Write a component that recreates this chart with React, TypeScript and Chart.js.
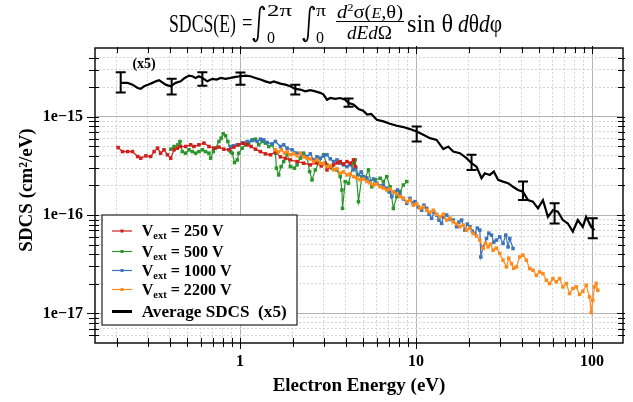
import { useEffect, useRef } from 'react';
import { Chart, registerables } from 'chart.js';

Chart.register(...registerables);

// ---- data (y values in units of 1e-16 cm^2/eV) ----
const UNIT = 1e-16;

const RED_E = [0.203, 0.215, 0.230, 0.245, 0.262, 0.273, 0.292, 0.311, 0.325, 0.340, 0.354, 0.370, 0.387, 0.404, 0.422, 0.441, 0.460, 0.491, 0.524, 0.547, 0.584, 0.624, 0.666, 0.710, 0.759, 0.809, 0.864, 0.922, 0.984, 1.043, 1.098, 1.157, 1.224, 1.306, 1.395, 1.489, 1.589, 1.696, 1.811, 1.932, 2.110, 2.299, 2.508, 2.713, 2.896, 3.051, 3.120, 3.257, 3.400, 3.567, 3.710, 3.873, 4.050, 4.228, 4.414, 4.512];
const RED_V = [4.86, 4.42, 4.42, 4.42, 3.94, 3.79, 4.00, 3.94, 4.42, 4.79, 4.26, 4.61, 4.10, 3.79, 4.61, 4.79, 4.98, 4.98, 5.18, 4.98, 5.18, 5.39, 4.98, 4.79, 4.91, 4.68, 4.61, 4.91, 5.18, 5.39, 5.18, 4.98, 4.68, 4.42, 4.19, 4.10, 4.39, 3.91, 3.77, 3.64, 3.50, 3.37, 3.24, 3.39, 3.16, 3.37, 2.88, 3.09, 3.24, 3.39, 3.50, 3.31, 3.50, 3.37, 3.64, 3.11];

const GREEN_E = [0.404, 0.422, 0.444, 0.456, 0.470, 0.491, 0.513, 0.536, 0.560, 0.584, 0.611, 0.637, 0.666, 0.681, 0.705, 0.726, 0.759, 0.782, 0.803, 0.828, 0.853, 0.884, 0.903, 0.931, 0.964, 0.984, 1.029, 1.074, 1.122, 1.172, 1.224, 1.278, 1.336, 1.395, 1.456, 1.522, 1.589, 1.610, 1.659, 1.712, 1.771, 1.851, 1.932, 2.036, 2.110, 2.202, 2.299, 2.403, 2.486, 2.566, 2.678, 2.796, 2.985, 3.120, 3.331, 3.554, 3.710, 3.793, 3.823, 3.960, 4.135, 4.414, 4.512, 4.711, 4.925, 5.140, 5.367, 5.611, 5.857, 6.252, 6.527, 6.823, 7.123, 7.437, 7.775, 8.117, 8.473, 8.859];
const GREEN_V = [4.68, 4.98, 5.18, 5.60, 4.42, 4.26, 4.61, 4.42, 4.26, 4.42, 4.61, 4.42, 4.26, 3.79, 4.42, 4.79, 5.60, 6.06, 6.71, 6.40, 5.60, 4.42, 4.26, 3.42, 3.64, 4.26, 4.79, 5.18, 5.39, 5.82, 5.92, 5.18, 5.60, 5.39, 4.98, 5.18, 4.26, 3.00, 2.56, 3.11, 3.50, 4.26, 3.11, 3.00, 3.24, 3.79, 4.26, 3.91, 2.77, 2.28, 2.88, 3.37, 4.10, 3.24, 3.00, 2.88, 2.46, 1.80, 1.17, 2.19, 2.11, 3.37, 3.64, 1.37, 2.46, 2.37, 2.88, 1.94, 2.28, 2.37, 2.19, 2.46, 1.94, 1.17, 1.54, 1.73, 2.02, 2.19];

const BLUE_E = [0.884, 0.922, 0.964, 1.029, 1.098, 1.172, 1.252, 1.306, 1.364, 1.426, 1.522, 1.589, 1.696, 1.771, 1.851, 1.976, 2.110, 2.251, 2.403, 2.508, 2.619, 2.737, 2.858, 2.985, 3.120, 3.257, 3.400, 3.554, 3.710, 3.873, 4.050, 4.228, 4.414, 4.554, 4.711, 4.880, 5.029, 5.257, 5.488, 5.730, 5.989, 6.252, 6.527, 6.823, 7.031, 7.283, 7.603, 7.855, 8.117, 8.473, 8.859, 9.247, 9.555, 9.869, 10.30, 10.77, 11.10, 11.50, 11.85, 12.27, 12.65, 13.10, 13.50, 13.98, 14.28, 14.93, 15.58, 16.27, 17.01, 17.52, 18.15, 18.95, 19.58, 20.23, 20.90, 21.59, 22.31, 23.05, 23.35, 24.06, 25.15, 25.93, 26.85, 27.67, 28.66, 29.92, 31.23, 32.36, 33.35, 34.10, 35.60];
const BLUE_V = [4.98, 5.06, 5.18, 5.39, 5.60, 5.73, 5.60, 5.92, 5.82, 5.47, 5.30, 5.60, 4.98, 5.18, 4.79, 4.61, 4.26, 4.10, 3.94, 4.19, 3.64, 3.91, 3.79, 4.00, 4.10, 3.73, 3.50, 3.64, 3.37, 3.24, 3.11, 3.24, 2.88, 3.02, 2.56, 2.75, 2.46, 2.39, 2.19, 2.33, 2.11, 1.98, 2.02, 1.87, 1.72, 1.54, 1.73, 1.80, 1.60, 1.46, 1.32, 1.48, 1.33, 1.37, 1.21, 1.12, 1.26, 1.17, 1.02, 0.925, 1.07, 1.00, 0.889, 0.823, 0.961, 1.00, 0.910, 0.889, 0.760, 0.848, 0.889, 0.703, 0.809, 0.760, 0.687, 0.650, 0.737, 0.703, 0.375, 0.475, 0.578, 0.655, 0.625, 0.530, 0.556, 0.600, 0.514, 0.625, 0.475, 0.578, 0.457];

const ORANGE_E = [1.589, 1.652, 1.718, 1.787, 1.858, 1.932, 2.010, 2.110, 2.202, 2.299, 2.403, 2.508, 2.619, 2.737, 2.858, 2.985, 3.120, 3.257, 3.400, 3.554, 3.710, 3.873, 4.050, 4.228, 4.414, 4.613, 4.815, 5.029, 5.257, 5.488, 5.730, 5.989, 6.252, 6.527, 6.823, 7.123, 7.437, 7.775, 8.117, 8.473, 8.859, 9.247, 9.654, 10.09, 10.54, 11.00, 11.50, 12.00, 12.53, 13.10, 13.68, 14.28, 14.93, 15.58, 16.27, 17.01, 17.76, 18.54, 19.38, 20.23, 21.12, 22.08, 23.05, 24.06, 24.83, 25.68, 26.50, 27.42, 28.66, 29.92, 31.23, 32.66, 33.65, 34.85, 35.92, 37.20, 38.83, 40.54, 42.38, 44.25, 46.20, 48.30, 50.42, 52.63, 55.03, 57.44, 59.97, 62.69, 65.45, 68.33, 71.42, 74.56, 77.84, 81.38, 84.96, 88.70, 92.71, 96.78, 98.97, 101.0, 103.3, 105.6, 107.9];
const ORANGE_V = [4.61, 4.39, 4.61, 4.29, 4.39, 4.10, 4.19, 4.00, 4.26, 3.91, 3.79, 3.73, 3.50, 3.64, 3.37, 3.31, 3.11, 3.16, 2.88, 2.95, 2.66, 2.75, 2.56, 2.62, 2.46, 2.39, 2.28, 2.33, 2.19, 2.12, 2.02, 2.07, 1.94, 1.88, 1.80, 1.84, 1.73, 1.64, 1.54, 1.49, 1.37, 1.42, 1.26, 1.30, 1.17, 1.21, 1.12, 1.07, 1.12, 1.02, 0.961, 1.02, 0.889, 0.932, 0.854, 0.809, 0.760, 0.791, 0.703, 0.737, 0.650, 0.611, 0.556, 0.457, 0.518, 0.475, 0.506, 0.439, 0.461, 0.407, 0.348, 0.297, 0.364, 0.321, 0.288, 0.297, 0.375, 0.391, 0.348, 0.286, 0.275, 0.244, 0.264, 0.254, 0.217, 0.201, 0.226, 0.209, 0.226, 0.186, 0.201, 0.159, 0.179, 0.186, 0.156, 0.168, 0.193, 0.147, 0.103, 0.136, 0.186, 0.202, 0.172];

const AVG_E = [0.210, 0.230, 0.245, 0.262, 0.273, 0.285, 0.300, 0.318, 0.332, 0.347, 0.362, 0.378, 0.404, 0.431, 0.460, 0.485, 0.513, 0.536, 0.560, 0.584, 0.611, 0.652, 0.696, 0.736, 0.776, 0.828, 0.884, 0.944, 1.006, 1.074, 1.146, 1.224, 1.307, 1.394, 1.489, 1.554, 1.696, 1.810, 1.932, 2.062, 2.201, 2.350, 2.508, 2.678, 2.858, 2.984, 3.119, 3.258, 3.478, 3.712, 3.962, 4.135, 4.414, 4.712, 5.01, 5.28, 5.56, 5.985, 6.526, 7.120, 7.776, 8.474, 9.247, 10.09, 11.00, 12.00, 13.10, 14.29, 15.24, 16.27, 17.75, 19.37, 20.68, 22.07, 23.56, 24.60, 26.26, 27.67, 29.26, 31.23, 33.33, 35.58, 37.98, 40.54, 43.27, 46.18, 49.30, 52.62, 56.17, 59.95, 63.99, 68.30, 72.90, 77.81, 83.06, 88.66, 92.6, 98.9, 103.3];
const AVG_V = [22.1, 22.1, 21.2, 19.6, 19.2, 20.4, 21.2, 22.1, 22.9, 23.5, 22.4, 21.2, 20.4, 22.1, 22.9, 24.8, 26.2, 25.8, 24.8, 25.8, 24.8, 22.9, 24.3, 23.9, 24.8, 24.3, 24.8, 25.4, 25.8, 26.2, 25.8, 24.8, 23.9, 22.9, 22.1, 22.9, 21.7, 21.2, 20.4, 19.2, 18.9, 18.1, 18.6, 18.1, 17.5, 16.8, 14.9, 15.5, 15.2, 15.5, 14.9, 13.8, 13.3, 12.0, 11.5, 10.5, 10.7, 9.32, 8.96, 8.48, 8.09, 7.85, 7.49, 7.08, 6.55, 6.06, 5.82, 4.68, 4.98, 4.43, 4.26, 3.79, 3.37, 3.11, 2.37, 2.66, 2.56, 2.77, 2.28, 2.19, 2.11, 1.94, 1.80, 1.73, 1.42, 1.37, 1.17, 1.42, 0.96, 1.12, 1.08, 0.89, 0.82, 0.68, 0.89, 0.76, 0.96, 0.76, 0.70];

const ERR_E = [0.210, 0.409, 0.611, 1.006, 2.062, 4.135, 10.09, 20.68, 40.54, 61.3, 101.0];
const ERR_HI = [28.3, 24.4, 28.3, 28.1, 21.2, 15.3, 7.96, 4.10, 2.19, 1.32, 0.93];
const ERR_LO = [17.6, 16.8, 20.7, 21.2, 16.8, 12.6, 5.60, 2.88, 1.42, 0.82, 0.58];

const SERIES_LABELS = ['250 V', '500 V', '1000 V', '2200 V'];
const SERIES_COLORS = ['#cf1f1a', '#2a962a', '#3b74b8', '#ff8a1c'];
const AVG_LABEL = 'Average SDCS  (x5)';
const SCALE_NOTE = '(x5)';
const NOTE_E = 0.285;
const NOTE_V = 34;

const X_MIN = 0.15;
const X_MAX = 150;
const Y_MIN = 5e-18;
const Y_MAX = 5e-15;
const X_TITLE = 'Electron Energy (eV)';
const Y_TITLE = 'SDCS (cm²/eV)';

const SERIF = "'Liberation Serif', 'Times New Roman', serif";

const isPow10 = (v: number) => {
  const l = Math.log10(v);
  return Math.abs(l - Math.round(l)) < 1e-6;
};

function makeTicks(min: number, max: number) {
  const out: { value: number }[] = [];
  for (let e = Math.floor(Math.log10(min)); e <= Math.ceil(Math.log10(max)); e++) {
    for (let m = 1; m <= 9; m++) {
      const v = parseFloat((m * Math.pow(10, e)).toPrecision(6));
      if (v >= min * 1.0001 && v <= max * 0.9999) out.push({ value: v });
    }
  }
  return out;
}

const toPts = (xs: number[], ys: number[]) => xs.map((x, i) => ({ x, y: ys[i] * UNIT }));

type Run = { t: string; font: string; dy?: number };

function drawRuns(ctx: CanvasRenderingContext2D, runs: Run[], x: number, baseline: number, targetW: number) {
  let total = 0;
  for (const r of runs) {
    ctx.font = r.font;
    total += ctx.measureText(r.t).width;
  }
  const sx = targetW / total;
  ctx.save();
  ctx.translate(x, baseline);
  ctx.scale(sx, 1);
  ctx.textAlign = 'left';
  ctx.textBaseline = 'alphabetic';
  let cx = 0;
  for (const r of runs) {
    ctx.font = r.font;
    ctx.fillText(r.t, cx, r.dy || 0);
    cx += ctx.measureText(r.t).width;
  }
  ctx.restore();
}

function drawIntegral(ctx: CanvasRenderingContext2D, x: number, top: number, bottom: number) {
  ctx.save();
  ctx.strokeStyle = '#000';
  ctx.fillStyle = '#000';
  ctx.lineWidth = 1.7;
  ctx.lineCap = 'round';
  ctx.beginPath();
  ctx.moveTo(x + 11, top + 3);
  ctx.bezierCurveTo(x + 10.5, top - 0.5, x + 7, top - 0.5, x + 6.6, top + 6);
  ctx.lineTo(x + 5, bottom - 6);
  ctx.bezierCurveTo(x + 4.6, bottom + 0.5, x + 1, bottom + 0.5, x + 0.6, bottom - 3);
  ctx.stroke();
  ctx.beginPath();
  ctx.arc(x + 10.8, top + 2.8, 1.3, 0, Math.PI * 2);
  ctx.fill();
  ctx.beginPath();
  ctx.arc(x + 0.9, bottom - 2.8, 1.3, 0, Math.PI * 2);
  ctx.fill();
  ctx.restore();
}

const decorPlugin = {
  id: 'decor',
  beforeDraw(chart: any) {
    const ctx = chart.ctx as CanvasRenderingContext2D;
    ctx.save();
    ctx.fillStyle = '#fff';
    ctx.fillRect(0, 0, chart.width, chart.height);
    ctx.restore();
  },
  afterDatasetsDraw(chart: any) {
    const ctx = chart.ctx as CanvasRenderingContext2D;
    const xs = chart.scales.x;
    const ys = chart.scales.y;
    // error bars on the average curve
    ctx.save();
    ctx.strokeStyle = '#000';
    ctx.lineWidth = 2;
    for (let i = 0; i < ERR_E.length; i++) {
      const px = xs.getPixelForValue(ERR_E[i]);
      const y1 = ys.getPixelForValue(ERR_HI[i] * UNIT);
      const y2 = ys.getPixelForValue(ERR_LO[i] * UNIT);
      ctx.beginPath();
      ctx.moveTo(px, y1);
      ctx.lineTo(px, y2);
      ctx.moveTo(px - 5, y1);
      ctx.lineTo(px + 5, y1);
      ctx.moveTo(px - 5, y2);
      ctx.lineTo(px + 5, y2);
      ctx.stroke();
    }
    // (x5) note
    ctx.fillStyle = '#000';
    ctx.font = `bold 14px ${SERIF}`;
    ctx.textAlign = 'center';
    ctx.textBaseline = 'middle';
    ctx.fillText(SCALE_NOTE, xs.getPixelForValue(NOTE_E), ys.getPixelForValue(NOTE_V * UNIT));
    ctx.restore();

    // legend
    const lx = 102, ly = 215, lw = 195, lh = 110;
    ctx.save();
    ctx.fillStyle = '#fff';
    ctx.fillRect(lx, ly, lw, lh);
    ctx.strokeStyle = '#222';
    ctx.lineWidth = 1.2;
    ctx.strokeRect(lx, ly, lw, lh);
    const rows = [231, 251.5, 270.5, 289.5, 311.5];
    for (let i = 0; i < 4; i++) {
      const y = rows[i];
      ctx.strokeStyle = SERIES_COLORS[i];
      ctx.fillStyle = SERIES_COLORS[i];
      ctx.lineWidth = 1.2;
      ctx.beginPath();
      ctx.moveTo(112, y);
      ctx.lineTo(132, y);
      ctx.stroke();
      ctx.fillRect(120.5, y - 1.5, 3, 3);
      ctx.fillStyle = '#000';
      drawRuns(ctx, [
        { t: 'V', font: `bold 17px ${SERIF}` },
        { t: 'ext', font: `bold 11px ${SERIF}`, dy: 3 },
        { t: ' = ' + SERIES_LABELS[i], font: `bold 17px ${SERIF}` },
      ], 141.7, y + 5, SERIES_LABELS[i].length > 5 ? 90 : 82);
    }
    ctx.strokeStyle = '#000';
    ctx.lineWidth = 3;
    ctx.beginPath();
    ctx.moveTo(112, rows[4]);
    ctx.lineTo(132, rows[4]);
    ctx.stroke();
    ctx.fillStyle = '#000';
    drawRuns(ctx, [{ t: AVG_LABEL, font: `bold 17px ${SERIF}` }], 141.7, rows[4] + 5, 145);
    ctx.restore();
  },
  afterDraw(chart: any) {
    const ctx = chart.ctx as CanvasRenderingContext2D;
    const a = chart.chartArea;
    const xs = chart.scales.x;
    const ys = chart.scales.y;
    ctx.save();
    ctx.strokeStyle = '#000';
    // tick marks (all four sides, crossing the frame)
    ctx.lineWidth = 1;
    for (const t of xs.ticks) {
      const px = Math.round(xs.getPixelForValue(t.value)) + 0.5;
      const maj = isPow10(t.value);
      ctx.beginPath();
      ctx.moveTo(px, a.bottom - 5);
      ctx.lineTo(px, a.bottom + (maj ? 6 : 4));
      ctx.moveTo(px, a.top - (maj ? 2 : 1));
      ctx.lineTo(px, a.top + (maj ? 6 : 5));
      ctx.stroke();
    }
    for (const t of ys.ticks) {
      const py = Math.round(ys.getPixelForValue(t.value)) + 0.5;
      const maj = isPow10(t.value);
      ctx.beginPath();
      ctx.moveTo(a.left - (maj ? 8 : 6), py);
      ctx.lineTo(a.left + 4, py);
      ctx.moveTo(a.right - (maj ? 6 : 5), py);
      ctx.lineTo(a.right + 2, py);
      ctx.stroke();
    }
    // frame
    ctx.lineWidth = 1.4;
    ctx.strokeRect(a.left, a.top, a.right - a.left, a.bottom - a.top);

    // axis titles
    ctx.fillStyle = '#000';
    ctx.font = `bold 19px ${SERIF}`;
    ctx.textAlign = 'center';
    ctx.textBaseline = 'middle';
    ctx.fillText(X_TITLE, 359, 386);
    ctx.save();
    ctx.translate(27, 190);
    ctx.rotate(-Math.PI / 2);
    ctx.fillText(Y_TITLE, 0, 0);
    ctx.restore();

    // formula title
    const f = (s: number, it = false) => `${it ? 'italic ' : ''}${s}px ${SERIF}`;
    drawRuns(ctx, [{ t: 'SDCS(E)', font: f(25) }], 169, 32, 67);
    drawRuns(ctx, [{ t: '=', font: f(25) }], 242, 31, 10.5);
    drawIntegral(ctx, 253, 6, 42);
    drawRuns(ctx, [{ t: '2π', font: f(17) }], 267, 16, 25);
    drawRuns(ctx, [{ t: '0', font: f(17) }], 267, 43, 8);
    drawIntegral(ctx, 303, 6, 42);
    drawRuns(ctx, [{ t: 'π', font: f(17) }], 316, 16, 10);
    drawRuns(ctx, [{ t: '0', font: f(17) }], 316, 43, 8);
    drawRuns(ctx, [
      { t: 'd', font: f(18, true) },
      { t: '2', font: f(11), dy: -7 },
      { t: 'σ(', font: f(18) },
      { t: 'E', font: f(14, true) },
      { t: ',θ)', font: f(18) },
    ], 337, 18, 66);
    ctx.lineWidth = 1;
    ctx.beginPath();
    ctx.moveTo(336, 21.5);
    ctx.lineTo(404, 21.5);
    ctx.stroke();
    drawRuns(ctx, [
      { t: 'dEd', font: f(18, true) },
      { t: 'Ω', font: f(18) },
    ], 347, 39, 45);
    drawRuns(ctx, [{ t: 'sin θ', font: f(25) }], 407, 32, 46);
    drawRuns(ctx, [
      { t: 'd', font: f(25, true) },
      { t: 'θ', font: f(25) },
      { t: 'd', font: f(25, true) },
      { t: 'φ', font: f(25) },
    ], 458, 32, 44);
    ctx.restore();
  },
};

const gridColor = (c: any) => (c.tick && isPow10(c.tick.value) ? '#b4b4b4' : '#d4d4d4');
const gridDash = (c: any) => (c.tick && !isPow10(c.tick.value) ? [2, 2] : []);

export default function App() {
  const ref = useRef<HTMLCanvasElement>(null);
  useEffect(() => {
    const mk = (label: string, xs: number[], ys: number[], color: string, order: number) => ({
      label,
      data: toPts(xs, ys),
      borderColor: color,
      backgroundColor: color,
      borderWidth: 1.2,
      pointRadius: 2.5,
      pointStyle: 'rect',
      pointBorderWidth: 0,
      tension: 0,
      order,
    });
    const chart = new Chart(ref.current as HTMLCanvasElement, {
      type: 'line',
      data: {
        datasets: [
          mk(SERIES_LABELS[1], GREEN_E, GREEN_V, SERIES_COLORS[1], 5),
          mk(SERIES_LABELS[2], BLUE_E, BLUE_V, SERIES_COLORS[2], 4),
          mk(SERIES_LABELS[0], RED_E, RED_V, SERIES_COLORS[0], 3),
          mk(SERIES_LABELS[3], ORANGE_E, ORANGE_V, SERIES_COLORS[3], 2),
          {
            label: AVG_LABEL,
            data: toPts(AVG_E, AVG_V),
            borderColor: '#000',
            backgroundColor: '#000',
            borderWidth: 2.2,
            pointRadius: 0,
            tension: 0,
            order: 1,
          },
        ] as any,
      },
      options: {
        responsive: false,
        devicePixelRatio: 1,
        animation: false,
        layout: { padding: { top: 48, right: 10, left: 0, bottom: 0 } },
        plugins: { legend: { display: false }, title: { display: false }, tooltip: { enabled: false } },
        scales: {
          x: {
            type: 'logarithmic',
            min: X_MIN,
            max: X_MAX,
            afterBuildTicks: (s: any) => { s.ticks = makeTicks(s.min, s.max); },
            afterFit: (s: any) => { s.height = 59; },
            grid: { drawTicks: false, color: gridColor, lineWidth: 1 },
            border: { display: false, dash: gridDash },
            ticks: {
              autoSkip: false,
              maxRotation: 0,
              minRotation: 0,
              padding: 9,
              color: '#000',
              font: { family: SERIF, size: 16, weight: 'bold' },
              callback: (v: any) => (isPow10(Number(v)) ? String(Math.round(Number(v))) : ''),
            },
          },
          y: {
            type: 'logarithmic',
            min: Y_MIN,
            max: Y_MAX,
            afterBuildTicks: (s: any) => { s.ticks = makeTicks(s.min, s.max); },
            afterFit: (s: any) => { s.width = 95; },
            grid: { drawTicks: false, color: gridColor, lineWidth: 1 },
            border: { display: false, dash: gridDash },
            ticks: {
              autoSkip: false,
              padding: 12,
              color: '#000',
              font: { family: SERIF, size: 16, weight: 'bold' },
              callback: (v: any) => {
                const n = Number(v);
                return isPow10(n) ? `1e−${-Math.round(Math.log10(n))}` : '';
              },
            },
          },
        },
      } as any,
      plugins: [decorPlugin],
    });
    return () => chart.destroy();
  }, []);
  return (
    <div style={{ position: 'absolute', left: 0, top: 0, width: 633, height: 402, background: '#fff' }}>
      <canvas ref={ref} width={633} height={402} style={{ display: 'block', width: 633, height: 402 }} />
    </div>
  );
}
